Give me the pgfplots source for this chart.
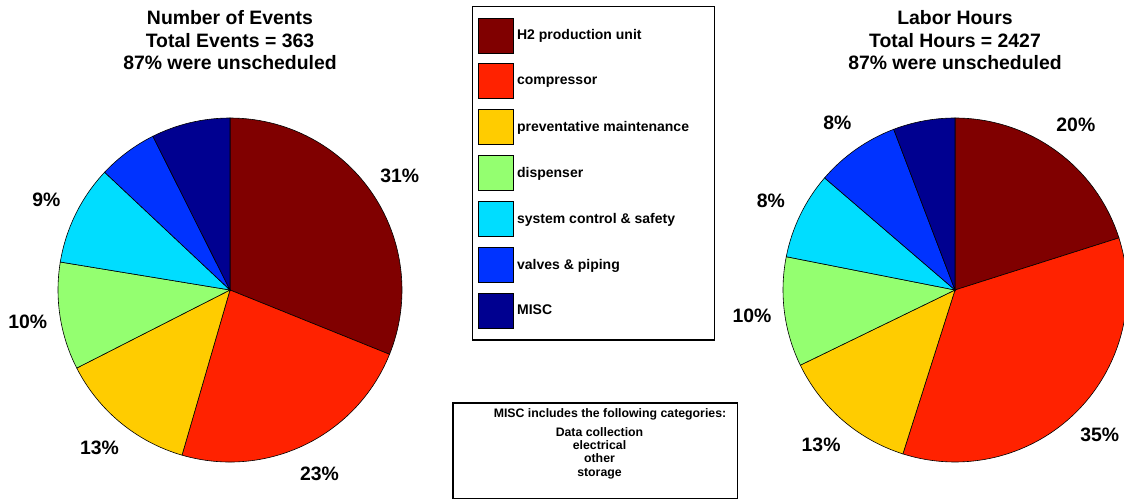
\documentclass[border=0pt]{standalone}
\usepackage{fontspec}
\setmainfont{Liberation Sans}
\usepackage{pgfplots}
\usepackage{pgfplotstable}
\pgfplotsset{compat=1.18}

\definecolor{c0}{RGB}{128,0,0}
\definecolor{c1}{RGB}{255,34,0}
\definecolor{c2}{RGB}{255,204,0}
\definecolor{c3}{RGB}{148,255,112}
\definecolor{c4}{RGB}{0,221,255}
\definecolor{c5}{RGB}{0,51,255}
\definecolor{c6}{RGB}{0,0,144}

% share in percent, clockwise from 12 o'clock; show = print the label
\pgfplotstableread{
pct  show
31.1 1
23.4 1
13.0 1
10.1 1
9.4  1
5.6  0
7.4  0
}\events
\pgfplotstableread{
pct  show
20.1 1
34.8 1
12.9 1
10.3 1
8.2  1
7.9  1
5.8  0
}\hours

\tikzset{pctlabel/.style={font=\fontsize{19.4}{22}\selectfont\bfseries}}

\newcommand\piewedges[1]{%
  \gdef\wCum{0}%
  \pgfplotsinvokeforeach{0,...,6}{%
    \pgfplotstablegetelem{##1}{pct}\of#1\let\wV\pgfplotsretval
    \pgfplotstablegetelem{##1}{show}\of#1\let\wS\pgfplotsretval
    \pgfmathsetmacro\wA{90-3.6*\wCum}%
    \pgfmathsetmacro\wB{90-3.6*(\wCum+\wV)}%
    \pgfmathsetmacro\wM{(\wA+\wB)/2}%
    \pgfmathtruncatemacro\wLab{round(\wV)}%
    \pgfmathsetmacro\wTmp{\wCum+\wV}\global\let\wCum\wTmp
    \edef\wCmd{\noexpand\filldraw[fill=c##1, draw=black, line width=0.6pt]
      (axis cs:0,0) -- ++(\wA:172pt) arc[start angle=\wA, end angle=\wB, radius=172pt] -- cycle;}%
    \wCmd
    \ifnum\wS=1
      \edef\wCmd{\noexpand\path (axis cs:0,0) ++(\wM:204.7pt) node[pctlabel] {\wLab\noexpand\%};}%
      \wCmd
    \fi
  }%
}

\begin{document}
\begin{tikzpicture}
\useasboundingbox (0,0) rectangle (1124pt,500pt);

\pgfplotsset{pie/.style={
  hide axis, scale only axis, anchor=center, clip=false,
  x=172pt, y=172pt, xmin=-1, xmax=1, ymin=-1, ymax=1,
  title style={at={(0.5,1.208)}, anchor=center, align=center,
    font=\fontsize{19.4}{22.5}\selectfont\bfseries},
}}

\begin{axis}[pie, at={(230pt,210pt)},
  title={Number of Events\\Total Events = 363\\87\% were unscheduled}]
\piewedges{\events}
\end{axis}

\begin{axis}[pie, at={(955pt,210pt)},
  title={Labor Hours\\Total Hours = 2427\\87\% were unscheduled}]
\piewedges{\hours}
\end{axis}

% legend frame
\begin{axis}[
  at={(472.7pt,160pt)}, anchor=south west,
  scale only axis, width=241.8pt, height=333.3pt,
  xmin=0, xmax=1, ymin=0, ymax=1, xtick=\empty, ytick=\empty,
  axis line style={line width=1.2pt},
  legend image code/.code={\draw[#1] (0pt,-17.5pt) rectangle (35pt,17.5pt);},
  legend cell align=left,
  legend style={at={(0.022,0.968)}, anchor=north west, draw=none, fill=none,
    inner sep=0pt, row sep=10.5pt, column sep=3.5pt,
    nodes={inner sep=0pt, font=\fontsize{14}{16}\selectfont\bfseries}},
]
\addlegendimage{fill=c0, draw=black}
\addlegendentry{H2 production unit}
\addlegendimage{fill=c1, draw=black}
\addlegendentry{compressor}
\addlegendimage{fill=c2, draw=black}
\addlegendentry{preventative maintenance}
\addlegendimage{fill=c3, draw=black}
\addlegendentry{dispenser}
\addlegendimage{fill=c4, draw=black}
\addlegendentry{system control \& safety}
\addlegendimage{fill=c5, draw=black}
\addlegendentry{valves \& piping}
\addlegendimage{fill=c6, draw=black}
\addlegendentry{MISC}
\end{axis}

\draw[line width=1.2pt] (453pt,1.7pt) rectangle (737.7pt,97pt);
\node[align=center, anchor=north, inner sep=0pt,
  font=\fontsize{12.3}{13.3}\selectfont\bfseries] at (599.5pt,91.5pt)
  {\hspace*{21pt}MISC includes the following categories:\\[5.4pt]Data collection\\electrical\\other\\storage};
\end{tikzpicture}
\end{document}
